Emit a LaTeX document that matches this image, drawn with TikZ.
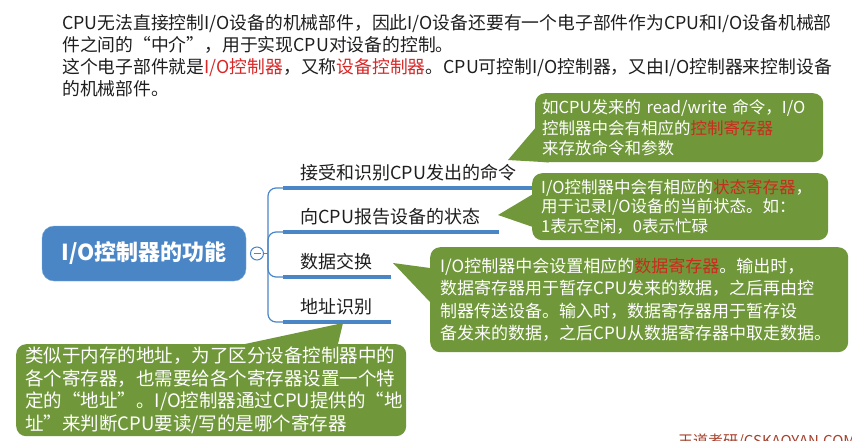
\documentclass[tikz,border=0pt]{standalone}
\usepackage{fontspec}
\setmainfont{Noto Sans CJK SC}
\definecolor{ioblue}{RGB}{74,134,198}
\definecolor{iogreen}{RGB}{112,152,58}
\definecolor{iored}{RGB}{215,40,40}
\definecolor{iobubred}{RGB}{200,45,30}
\definecolor{iobrown}{RGB}{165,65,45}
\definecolor{iotext}{RGB}{30,30,30}
\usetikzlibrary{positioning,calc,backgrounds}

\begin{document}
\begin{tikzpicture}[x=1pt,y=-1pt,
    linha/.style={anchor=base west,inner sep=0pt,text=iotext,font=\fontsize{17.8}{22}\selectfont},
    ramo/.style={anchor=base west,inner sep=0pt,text=iotext,font=\fontsize{18}{20}\selectfont},
    conector/.style={ioblue,line width=1.2pt,rounded corners=8pt},
    sublinha/.style={ioblue,line width=4pt},
    bolha/.style={fill=iogreen,rounded corners=10pt,anchor=north west,text=white,
        align=left,inner xsep=11pt,inner ysep=0pt}]

        \useasboundingbox (0,0) rectangle (852,440);

        % Texto introdutorio
        \node[linha] (t1) at (62,29) {CPU无法直接控制I/O设备的机械部件，因此I/O设备还要有一个电子部件作为CPU和I/O设备机械部};
        \node[linha] (t2) at (62,51) {件之间的“中介”，用于实现CPU对设备的控制。};
        \node[linha] (t3) at (62,73) {这个电子部件就是\textcolor{iored}{I/O控制器}，又称\textcolor{iored}{设备控制器}。CPU可控制I/O控制器，又由I/O控制器来控制设备};
        \node[linha] (t4) at (62,95) {的机械部件。};

        % Topico central
        \node[fill=ioblue,draw=ioblue!70!white,rounded corners=12pt,minimum width=204pt,
            minimum height=55pt,text=white,font=\fontsize{22}{22}\selectfont\bfseries]
            (raiz) at (144,253.5) {I/O控制器的功能};
        \node[circle,draw=ioblue,fill=white,line width=1pt,minimum size=13pt,inner sep=0pt]
            (dobra) at (257,253.5) {};
        \draw[ioblue!60!gray,line width=1pt] ($(dobra.center)+(-3.5,0)$) -- ($(dobra.center)+(3.5,0)$);
        \coordinate (j) at (268,253.5);
        \draw[conector] (dobra.east) -- (j);

        % Ramos
        \foreach \i/\y/\txt in {1/188/接受和识别CPU发出的命令, 2/232/向CPU报告设备的状态,
                                3/277/数据交换, 4/322/地址识别}{
            \node[ramo] (r\i) at (300,\y-9) {\txt};
            \coordinate (u\i) at (283,\y);
            \draw[conector] (j) |- (u\i);
            \draw[sublinha] (u\i) -- ($(u\i -| r\i.east)+(19,0)$);
        }

        % Balões explicativos
        \node[bolha,minimum width=288pt,minimum height=69pt,text width=274pt,inner xsep=7pt,
            font=\fontsize{16.5}{20.5}\selectfont] (b1) at (535,93)
            {如CPU发来的~read/write~命令，I/O\\控制器中会有相应的\textcolor{iobubred}{控制寄存器}\\来存放命令和参数};
        \node[bolha,minimum width=296pt,minimum height=67pt,text width=278pt,inner xsep=9pt,
            font=\fontsize{16.5}{19.5}\selectfont] (b2) at (532,173)
            {I/O控制器中会有相应的\textcolor{iobubred}{状态寄存器}，\\用于记录I/O设备的当前状态。如：\\1表示空闲，0表示忙碌};
        \node[bolha,minimum width=418pt,minimum height=105pt,text width=398pt,inner xsep=10pt,
            font=\fontsize{17}{22.5}\selectfont] (b3) at (430,247)
            {I/O控制器中会设置相应的\textcolor{iobubred}{数据寄存器}。输出时，\\数据寄存器用于暂存CPU发来的数据，之后再由控\\制器传送设备。输入时，数据寄存器用于暂存设\\备发来的数据，之后CPU从数据寄存器中取走数据。};
        \node[bolha,minimum width=390pt,minimum height=92pt,text width=372pt,inner xsep=9pt,
            font=\fontsize{18.5}{22.5}\selectfont] (b4) at (16,344)
            {类似于内存的地址，为了区分设备控制器中的\\各个寄存器，也需要给各个寄存器设置一个特\\定的“地址”。I/O控制器通过CPU提供的“地\\址”来判断CPU要读/写的是哪个寄存器};

        % Pontas dos balões
        \coordinate (p1) at (508,160);
        \coordinate (p2) at (498,215);
        \coordinate (p3) at (393,263);
        \coordinate (p4) at (343,323);
        \begin{scope}[on background layer]
            \fill[iogreen] ($(b1.south west)+(0,-34)$) -- (p1) -- ($(b1.south west)+(14,0)$) -- cycle;
            \fill[iogreen] ($(b2.west)+(0,-12)$) -- (p2) -- ($(b2.west)+(0,20)$) -- cycle;
            \fill[iogreen] ($(b3.north west)+(0,21)$) -- (p3) -- ($(b3.north west)+(0,55)$) -- cycle;
            \fill[iogreen] ($(b4.north west)+(229,0)$) -- (p4) -- ($(b4.north west)+(322,0)$) -- cycle;
        \end{scope}

        % Marca d'agua
        \node[anchor=base west,inner sep=0pt,text=iobrown,font=\fontsize{15}{15}\selectfont]
            (marca) at (678,446) {王道考研/CSKAOYAN.COM};

\end{tikzpicture}
\end{document}
